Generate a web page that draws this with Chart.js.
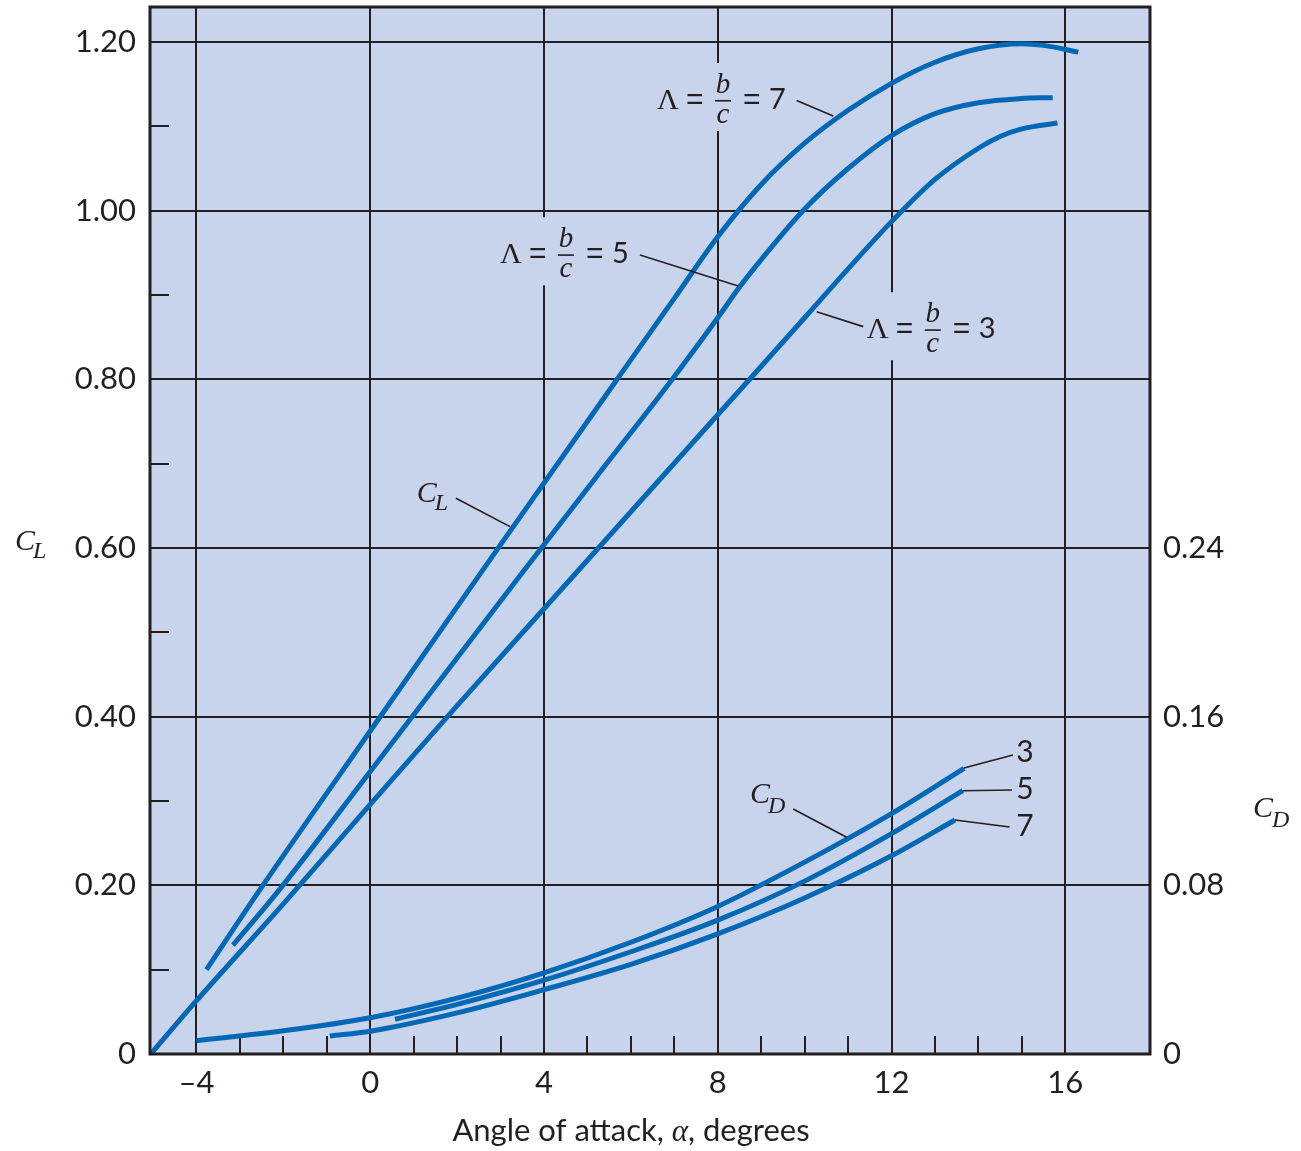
<!DOCTYPE html>
<html>
<head>
<meta charset="utf-8">
<script src="https://cdn.jsdelivr.net/npm/chart.js@4.4.0/dist/chart.umd.min.js"></script>
<style>
  html, body { margin: 0; padding: 0; background: #fff; }
  canvas { display: block; }
</style>
</head>
<body>
<canvas id="chart" width="1301" height="1151"></canvas>
<script>
// lift coefficient vs angle of attack, one curve per aspect ratio
const alphaCL7 = [-3.77, -2.59, 0, 2.92, 5.71, 7, 8, 9, 10, 11, 12, 13, 14, 15, 15.5, 16.3];
const cl7 = [0.100, 0.191, 0.383, 0.598, 0.802, 0.896, 0.969, 1.031, 1.080, 1.119, 1.151, 1.176, 1.192, 1.198, 1.196, 1.188];
const alphaCL5 = [-3.16, -2.15, 0, 3.37, 5.2, 6.98, 8, 8.51, 9, 10, 11, 12, 13, 14, 15, 15.71];
const cl5 = [0.129, 0.191, 0.335, 0.562, 0.684, 0.802, 0.873, 0.910, 0.942, 1.002, 1.050, 1.089, 1.115, 1.128, 1.133, 1.134];
const alphaCL3 = [-5.05, -4.02, -2, 0, 2, 4, 6, 8, 10, 11, 12, 13, 14, 14.5, 15, 15.82];
const cl3 = [0.0, 0.062, 0.178, 0.296, 0.413, 0.528, 0.643, 0.758, 0.873, 0.931, 0.987, 1.037, 1.074, 1.088, 1.097, 1.104];

// drag coefficient (right axis)
const alphaCD3 = [-4, -2, 0, 2, 4, 6, 8, 10, 12, 13.67];
const cd3 = [0.0063, 0.0110, 0.0172, 0.0265, 0.0385, 0.053, 0.070, 0.091, 0.114, 0.1355];
const alphaCD5 = [0.57, 2, 4, 6, 8, 10, 12, 13.64];
const cd5 = [0.0165, 0.0235, 0.0350, 0.0485, 0.0635, 0.082, 0.1045, 0.1249];
const alphaCD7 = [-0.93, 0, 2, 4, 6, 8, 10, 12, 13.46];
const cd7 = [0.0085, 0.0108, 0.0195, 0.0305, 0.0425, 0.057, 0.074, 0.094, 0.111];

const xTicks = [-4, 0, 4, 8, 12, 16];
const xMinor = [-3, -2, -1, 1, 2, 3, 5, 6, 7, 9, 10, 11, 13, 14, 15];
const clTicks = [0, 0.2, 0.4, 0.6, 0.8, 1.0, 1.2];
const clMinor = [0.1, 0.3, 0.5, 0.7, 0.9, 1.1];
const cdTicks = [0, 0.08, 0.16, 0.24];

const INK = '#231f20';
const BLUE = '#0068b4';
const PAPER = '#c8d3ec';
const SANS = 'Lato, "Open Sans", sans-serif';
const SERIF = '"Liberation Serif", "DejaVu Serif", serif';
const EQ = '"Liberation Sans", "DejaVu Sans", sans-serif';

// annotation anchors, in (alpha, CL) units
const lambdaLabels = [
  { n: '7', a: 6.60, cl: 1.1206, lead: [[9.816, 1.1305], [10.658, 1.1123]] },
  { n: '5', a: 2.985, cl: 0.9376, lead: [[6.209, 0.9475], [8.471, 0.9107]] },
  { n: '3', a: 11.43, cl: 0.8487, lead: [[11.349, 0.8625], [10.276, 0.8802]] },
];
const cdNums = [
  { n: '3', a: 15.07, cl: 0.3581, lead: [[13.667, 0.3391], [14.795, 0.3546]] },
  { n: '5', a: 15.07, cl: 0.3142, lead: [[13.637, 0.3122], [14.772, 0.3131]] },
  { n: '7', a: 15.07, cl: 0.2704, lead: [[13.46, 0.2775], [14.72, 0.2692]] },
];

function pts(xs, ys) {
  return xs.map((x, i) => ({ x: x, y: ys[i] }));
}

function curve(xs, ys, axis) {
  return {
    data: pts(xs, ys),
    yAxisID: axis,
    borderColor: BLUE,
    borderWidth: 5,
    pointRadius: 0,
    fill: false,
    cubicInterpolationMode: 'monotone',
  };
}

function leader(ctx, x, y, seg) {
  ctx.beginPath();
  ctx.moveTo(x.getPixelForValue(seg[0][0]), y.getPixelForValue(seg[0][1]));
  ctx.lineTo(x.getPixelForValue(seg[1][0]), y.getPixelForValue(seg[1][1]));
  ctx.stroke();
}

function subscripted(ctx, px, base, main, sub, dx, dy) {
  ctx.textAlign = 'left';
  ctx.textBaseline = 'alphabetic';
  ctx.font = 'italic 30px ' + SERIF;
  ctx.fillText(main, px, base);
  ctx.font = 'italic 24px ' + SERIF;
  ctx.fillText(sub, px + dx, base + dy);
}

function drawLambda(ctx, x0, base, n) {
  ctx.textBaseline = 'alphabetic';
  ctx.textAlign = 'left';
  ctx.font = '30px ' + SERIF;
  ctx.fillText('\u039B', x0, base);
  ctx.font = '30px ' + EQ;
  ctx.fillText('=', x0 + 29, base);
  const fc = x0 + 66;
  ctx.textAlign = 'center';
  ctx.font = 'italic 29px ' + SERIF;
  ctx.fillText('b', fc, base - 16);
  ctx.fillText('c', fc, base + 14);
  ctx.fillRect(fc - 8, base - 9, 16, 1.6);
  ctx.textAlign = 'left';
  ctx.font = '30px ' + EQ;
  ctx.fillText('=', x0 + 86, base);
  ctx.font = '29px ' + SANS;
  ctx.fillText(n, x0 + 112, base);
}

const paperPlugin = {
  id: 'paper',
  beforeDraw(chart) {
    const { ctx, chartArea: a } = chart;
    ctx.save();
    ctx.fillStyle = PAPER;
    ctx.fillRect(a.left, a.top, a.right - a.left, a.bottom - a.top);
    ctx.restore();
  },
  beforeDatasetsDraw(chart) {
    const { ctx, chartArea: a, scales: { x, y } } = chart;
    ctx.save();
    // the grid is broken behind the Λ labels
    ctx.fillStyle = PAPER;
    lambdaLabels.forEach(l => {
      const px = x.getPixelForValue(l.a), py = y.getPixelForValue(l.cl);
      ctx.fillRect(px - 6, py - 46, 148, 68);
    });
    // short inward ticks
    ctx.strokeStyle = INK;
    ctx.lineWidth = 2;
    ctx.beginPath();
    clMinor.forEach(v => {
      const py = Math.round(y.getPixelForValue(v));
      ctx.moveTo(a.left, py);
      ctx.lineTo(a.left + 19, py);
    });
    xMinor.forEach(v => {
      const px = Math.round(x.getPixelForValue(v));
      ctx.moveTo(px, a.bottom);
      ctx.lineTo(px, a.bottom - 18);
    });
    ctx.stroke();
    ctx.restore();
  },
  afterDatasetsDraw(chart) {
    const { ctx, chartArea: a, scales: { x, y } } = chart;
    ctx.save();
    ctx.strokeStyle = INK;
    ctx.lineWidth = 3;
    ctx.strokeRect(a.left, a.top, a.right - a.left, a.bottom - a.top);

    ctx.fillStyle = INK;
    ctx.lineWidth = 1.6;
    lambdaLabels.forEach(l => {
      drawLambda(ctx, x.getPixelForValue(l.a), y.getPixelForValue(l.cl), l.n);
      leader(ctx, x, y, l.lead);
    });

    subscripted(ctx, x.getPixelForValue(1.068), y.getPixelForValue(0.6549), 'C', 'L', 18, 8);
    leader(ctx, x, y, [[1.973, 0.6590], [3.216, 0.6253]]);
    subscripted(ctx, x.getPixelForValue(8.741), y.getPixelForValue(0.2973), 'C', 'D', 18, 10);
    leader(ctx, x, y, [[9.737, 0.2905], [10.967, 0.2570]]);

    ctx.font = '30px ' + SANS;
    ctx.textAlign = 'center';
    ctx.textBaseline = 'middle';
    cdNums.forEach(l => {
      ctx.fillText(l.n, x.getPixelForValue(l.a), y.getPixelForValue(l.cl));
      leader(ctx, x, y, l.lead);
    });
    ctx.restore();
  },
  afterDraw(chart) {
    const { ctx, chartArea: a } = chart;
    ctx.save();
    ctx.fillStyle = INK;
    subscripted(ctx, 15, 550, 'C', 'L', 18, 8);
    subscripted(ctx, a.right + 103, 817, 'C', 'D', 19, 10);

    // x title, α set in italic serif
    const p1 = 'Angle of attack, ', p2 = '\u03B1', p3 = ', degrees';
    ctx.font = '31px ' + SANS;
    const w1 = ctx.measureText(p1).width, w3 = ctx.measureText(p3).width;
    ctx.font = 'italic 31px ' + SERIF;
    const w2 = ctx.measureText(p2).width;
    let tx = 631 - (w1 + w2 + w3) / 2;
    const base = 1141;
    ctx.textAlign = 'left';
    ctx.textBaseline = 'alphabetic';
    ctx.font = '31px ' + SANS;
    ctx.fillText(p1, tx, base);
    tx += w1;
    ctx.font = 'italic 31px ' + SERIF;
    ctx.fillText(p2, tx, base);
    tx += w2;
    ctx.font = '31px ' + SANS;
    ctx.fillText(p3, tx, base);
    ctx.restore();
  },
};

const tickFont = { family: SANS, size: 31 };
const twoPlaces = v => (v === 0 ? '0' : v.toFixed(2));
// keep the plot frame exactly where the axis widths put it
const noPad = s => { s.paddingTop = 0; s.paddingBottom = 0; s.paddingLeft = 0; s.paddingRight = 0; };

new Chart(document.getElementById('chart'), {
  type: 'line',
  data: {
    datasets: [
      curve(alphaCL7, cl7, 'y'),
      curve(alphaCL5, cl5, 'y'),
      curve(alphaCL3, cl3, 'y'),
      curve(alphaCD3, cd3, 'y2'),
      curve(alphaCD5, cd5, 'y2'),
      curve(alphaCD7, cd7, 'y2'),
    ],
  },
  options: {
    responsive: false,
    animation: false,
    devicePixelRatio: 1,
    layout: { padding: { top: 7, left: 0, right: 0, bottom: 0 } },
    plugins: { legend: { display: false }, tooltip: { enabled: false } },
    scales: {
      x: {
        type: 'linear',
        min: -5.07,
        max: 17.95,
        afterBuildTicks: s => { s.ticks = xTicks.map(v => ({ value: v })); },
        afterFit: s => { s.height = 97; noPad(s); },
        grid: { color: INK, lineWidth: 2, drawTicks: false },
        border: { display: false },
        ticks: {
          autoSkip: false,
          maxRotation: 0,
          font: tickFont,
          color: INK,
          padding: 10,
          callback: v => (v < 0 ? '\u2013' + Math.abs(v) : String(v)),
        },
      },
      y: {
        position: 'left',
        min: 0,
        max: 1.2415,
        afterBuildTicks: s => { s.ticks = clTicks.map(v => ({ value: v })); },
        afterFit: s => { s.width = 150; noPad(s); },
        grid: { color: INK, lineWidth: 2, drawTicks: false },
        border: { display: false },
        ticks: { autoSkip: false, font: tickFont, color: INK, padding: 14, callback: twoPlaces },
      },
      y2: {
        position: 'right',
        min: 0,
        max: 0.4966,
        afterBuildTicks: s => { s.ticks = cdTicks.map(v => ({ value: v })); },
        afterFit: s => { s.width = 151; noPad(s); },
        grid: { display: false, drawTicks: false },
        border: { display: false },
        ticks: { autoSkip: false, font: tickFont, color: INK, padding: 13, callback: twoPlaces },
      },
    },
  },
  plugins: [paperPlugin],
});
</script>
</body>
</html>
